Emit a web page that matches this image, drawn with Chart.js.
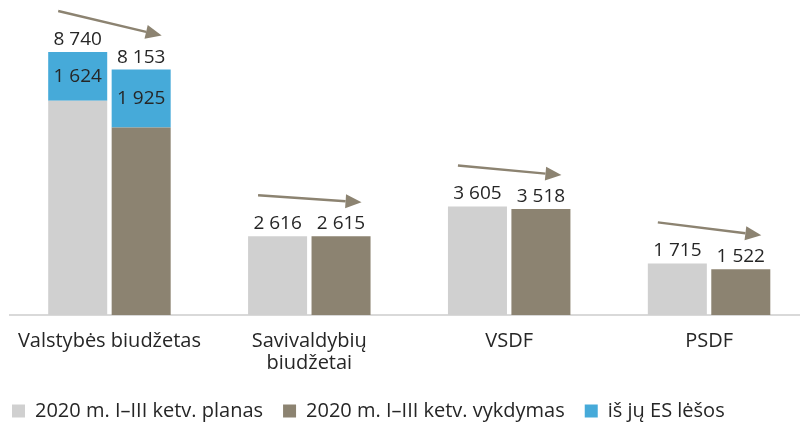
<!DOCTYPE html>
<html>
<head>
<meta charset="utf-8">
<script src="https://cdn.jsdelivr.net/npm/chart.js@4.4.0/dist/chart.umd.min.js"></script>
<style>
  html, body { margin: 0; padding: 0; background: #fff; overflow: hidden; }
  #wrap { position: relative; width: 809px; height: 432px; }
</style>
</head>
<body>
<div id="wrap"><canvas id="grafikas"></canvas></div>
<script>
// Duomenys (mln. Eur)
const kategorijos = [['Valstybės biudžetas'], ['Savivaldybių', 'biudžetai'], ['VSDF'], ['PSDF']];
const planas      = [8740, 2616, 3605, 1715];   // visa suma
const vykdymas    = [8153, 2615, 3518, 1522];
const planasES    = [1624, 0, 0, 0];             // iš jų ES lėšos
const vykdymasES  = [1925, 0, 0, 0];
const serijos     = ['2020 m. I–III ketv. planas', '2020 m. I–III ketv. vykdymas', 'iš jų ES lėšos'];

const PILKA = '#d0d0d0', RUDA = '#8c8371', MELYNA = '#46aad9', TEKSTAS = '#262626';
const SRIFTAS = '"Open Sans", sans-serif';

const fmt = v => String(v).replace(/\B(?=(\d{3})+(?!\d))/g, ' ');

// skaičiai virš stulpelių, ES lėšos viduje ir rodyklės
const zymos = {
  id: 'zymos',
  afterDatasetsDraw(chart) {
    const ctx = chart.ctx;
    const y = chart.scales.y;
    const pl = chart.getDatasetMeta(0).data;
    const vk = chart.getDatasetMeta(1).data;
    ctx.save();
    ctx.font = '19px ' + SRIFTAS;
    ctx.fillStyle = TEKSTAS;
    ctx.textAlign = 'center';
    ctx.textBaseline = 'bottom';
    planas.forEach((v, i) => ctx.fillText(fmt(v), pl[i].x, y.getPixelForValue(v) - 3));
    vykdymas.forEach((v, i) => ctx.fillText(fmt(v), vk[i].x, y.getPixelForValue(v) - 3));

    ctx.textBaseline = 'middle';
    [[2, planasES], [3, vykdymasES]].forEach(([di, arr]) => {
      const meta = chart.getDatasetMeta(di);
      arr.forEach((v, i) => {
        if (!v) return;
        const b = meta.data[i];
        ctx.fillText(fmt(v), b.x, (b.y + b.base) / 2);
      });
    });

    // rodyklės
    ctx.strokeStyle = RUDA;
    ctx.fillStyle = RUDA;
    ctx.lineWidth = 2.5;
    planas.forEach((v, i) => {
      const x1 = pl[i].x - pl[i].width / 2 + 10;
      const y1 = y.getPixelForValue(v) - 41;
      const x2 = vk[i].x + vk[i].width / 2 - 9;
      const y2 = y.getPixelForValue(vykdymas[i]) - 34;
      const a = Math.atan2(y2 - y1, x2 - x1);
      const ilg = 16, plt = 7;
      const bx = x2 - ilg * Math.cos(a), by = y2 - ilg * Math.sin(a);
      ctx.beginPath();
      ctx.moveTo(x1, y1);
      ctx.lineTo(bx, by);
      ctx.stroke();
      ctx.beginPath();
      ctx.moveTo(x2, y2);
      ctx.lineTo(bx + plt * Math.sin(a), by - plt * Math.cos(a));
      ctx.lineTo(bx - plt * Math.sin(a), by + plt * Math.cos(a));
      ctx.closePath();
      ctx.fill();
    });
    ctx.restore();
  }
};

new Chart(document.getElementById('grafikas'), {
  type: 'bar',
  data: {
    labels: kategorijos,
    datasets: [
      { label: serijos[0], data: planas.map((v, i) => v - planasES[i]), backgroundColor: PILKA, stack: 'p' },
      { label: serijos[1], data: vykdymas.map((v, i) => v - vykdymasES[i]), backgroundColor: RUDA, stack: 'v' },
      { label: serijos[2], data: planasES, backgroundColor: MELYNA, stack: 'p' },
      { label: serijos[2], data: vykdymasES, backgroundColor: MELYNA, stack: 'v' }
    ]
  },
  options: {
    responsive: true,
    maintainAspectRatio: false,
    animation: false,
    categoryPercentage: 0.635,
    barPercentage: 0.93,
    layout: { padding: { left: -8, right: 0, top: 14, bottom: 1 } },
    scales: {
      x: {
        stacked: true,
        grid: { display: false, drawTicks: false, tickLength: 0 },
        border: { display: true, color: '#d9d9d9', width: 2 },
        ticks: { color: TEKSTAS, font: { family: SRIFTAS, size: 20, lineHeight: 1.1 }, padding: 15, maxRotation: 0 },
        afterFit: s => { s.height = 66; }
      },
      y: {
        stacked: true,
        min: 0,
        max: 10000,
        grid: { display: false, drawTicks: false },
        border: { display: false },
        ticks: { display: false },
        afterFit: s => { s.width = 17.5; }
      }
    },
    plugins: {
      legend: {
        position: 'bottom',
        align: 'start',
        labels: {
          color: TEKSTAS,
          font: { family: SRIFTAS, size: 20 },
          boxWidth: 13,
          boxHeight: 13,
          padding: 20,
          filter: (it) => it.datasetIndex !== 3
        }
      },
      tooltip: { enabled: false }
    }
  },
  plugins: [zymos]
});
</script>
</body>
</html>
